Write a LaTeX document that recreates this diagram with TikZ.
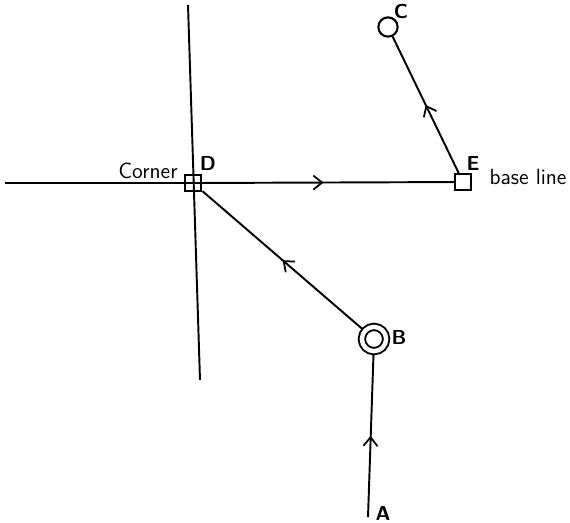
\documentclass[tikz,border=0pt]{standalone}
\usetikzlibrary{arrows.meta,decorations.markings}

\tikzset{
    midarrow/.style={postaction={decorate},decoration={markings,
        mark=at position 0.5 with {\arrow[line width=1pt]{Straight Barb[length=5pt,width=8pt]}}}},
    sqpoint/.style={draw,line width=1.2pt,rectangle,minimum size=9.5pt,inner sep=0pt},
    label text/.style={font=\sffamily\fontsize{12.5}{14}\selectfont,inner sep=0pt},
    point text/.style={font=\sffamily\bfseries\fontsize{11.5}{14}\selectfont,inner sep=0pt},
    base/.style={line width=1.1pt},
}

\begin{document}
\begin{tikzpicture}[x=0.02cm,y=-0.02cm]

    % 範囲の定義
    \useasboundingbox (0,0) rectangle (570,522);

    % 点の定義
    \coordinate (A) at (368,517);
    \coordinate (L) at (5,183);
    \coordinate (T) at (188,5);
    \coordinate (S) at (200,380);

    % 点の描画
    \node (D) at (193,183) [sqpoint] {};
    \node (E) at (463,182) [sqpoint,minimum size=9pt] {};
    \node (C) at (388,27) [draw,line width=1.2pt,circle,minimum size=11pt,inner sep=0pt] {};
    \node (B) at (374,339) [draw,line width=1.1pt,circle,double,double distance=2.5pt,
        minimum size=13.8pt,outer sep=2pt,inner sep=0pt] {};

    % 線分の描画
    \draw [base] (T) -- (S);
    \draw [base] (L) -- (D.center);
    \draw [base,midarrow] (D.center) -- (E);
    \draw [base,midarrow] (B) -- (D);
    \draw [base,midarrow] (A) -- (B);
    \draw [base,midarrow] (E) -- (C);

    % 文字の描画
    \node (LA) at (383,513) [point text] {A};
    \node (LB) at (399,337) [point text] {B};
    \node (LC) at (401,11) [point text] {C};
    \node (LD) at (208,163) [point text] {D};
    \node (LE) at (473,164) [point text] {E};
    \node (LCorner) at (148,171) [label text] {Corner};
    \node (LBase) at (528,177) [label text] {base line};

\end{tikzpicture}
\end{document}
